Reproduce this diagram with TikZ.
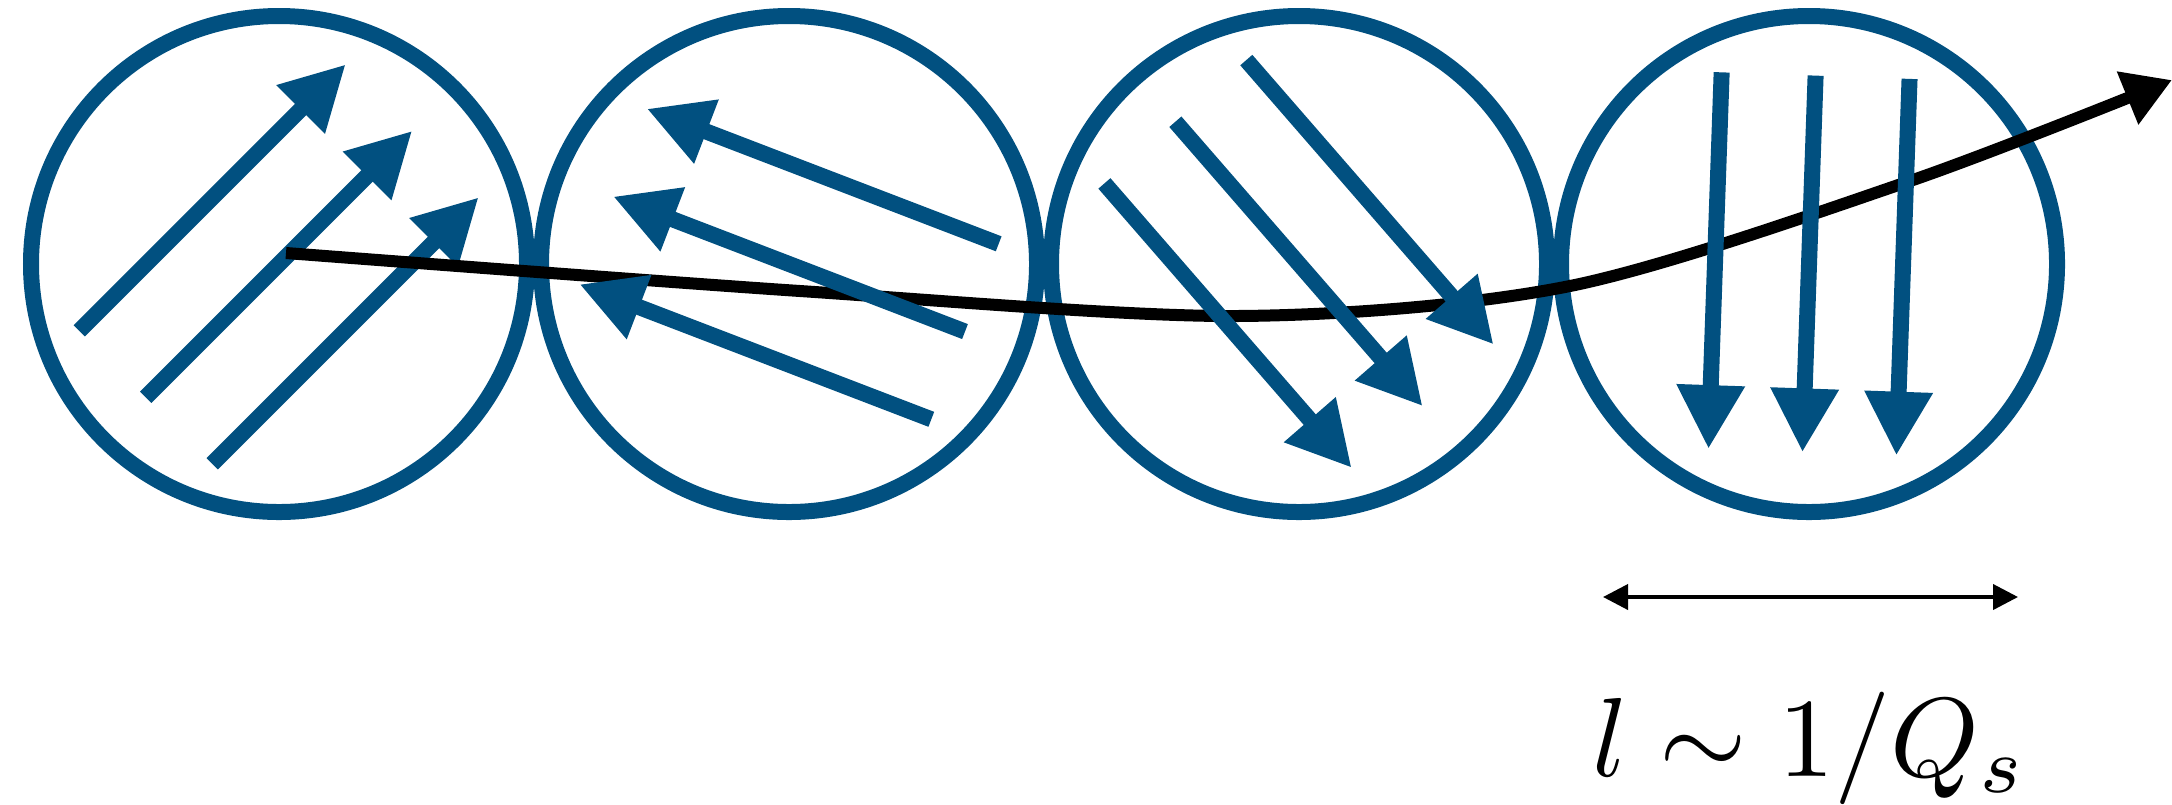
\documentclass[tikz,border=0pt]{standalone}
\usepackage{tikz}
\usetikzlibrary{arrows.meta, positioning, calc}
\definecolor{domblue}{RGB}{1,80,128}

\begin{document}
\begin{tikzpicture}[
      domcircle/.style={
        circle, draw=domblue, line width=0.16cm,
        minimum size=4.96cm, inner sep=0pt
      },
      spin/.style={-{Triangle[length=0.64cm, width=0.64cm]}, line width=0.16cm, color=domblue},
      probe/.style={-{Triangle[length=0.48cm, width=0.54cm]}, line width=0.12cm, color=black},
      dimline/.style={{Triangle[length=0.25cm, width=0.25cm]}-{Triangle[length=0.25cm, width=0.25cm]}, line width=0.04cm}
    ]
      \useasboundingbox (0,0) rectangle (21.72,8.04);
      % colour domains
      \node[domcircle] (dom1) at (2.79,5.40) {};
      \node[domcircle, right=-0.2mm of dom1] (dom2) {};
      \node[domcircle, right=-0.2mm of dom2] (dom3) {};
      \node[domcircle, right=-0.2mm of dom3] (dom4) {};
      % field directions
      \foreach \s in {-0.94,0,0.94}
        \draw[spin] ($(dom1)+(135:\s)+(45:-1.885)$) -- ++(45:3.77);
      % the probe
      \draw[probe] plot[smooth, tension=0.5] coordinates {
        (2.86,5.51) (8.00,5.13) (12.37,4.88) (15.70,5.18) (19.10,6.23) (21.72,7.24)};
      \foreach \d/\a in {dom2/159, dom3/-49, dom4/-92}
        \foreach \s in {-0.94,0,0.94}
          \draw[spin] ($(\d)+(\a+90:\s)+(\a:-1.885)$) -- ++(\a:3.77);
      % domain size
      \coordinate (lleft) at (16.03,2.07);
      \coordinate (lright) at (20.18,2.07);
      \draw[dimline] (lleft) -- (lright);
      \node[scale=3.2, anchor=base] (lsize) at (18.10,0.28) {$l\sim 1/Q_s$};
    \end{tikzpicture}
\end{document}
